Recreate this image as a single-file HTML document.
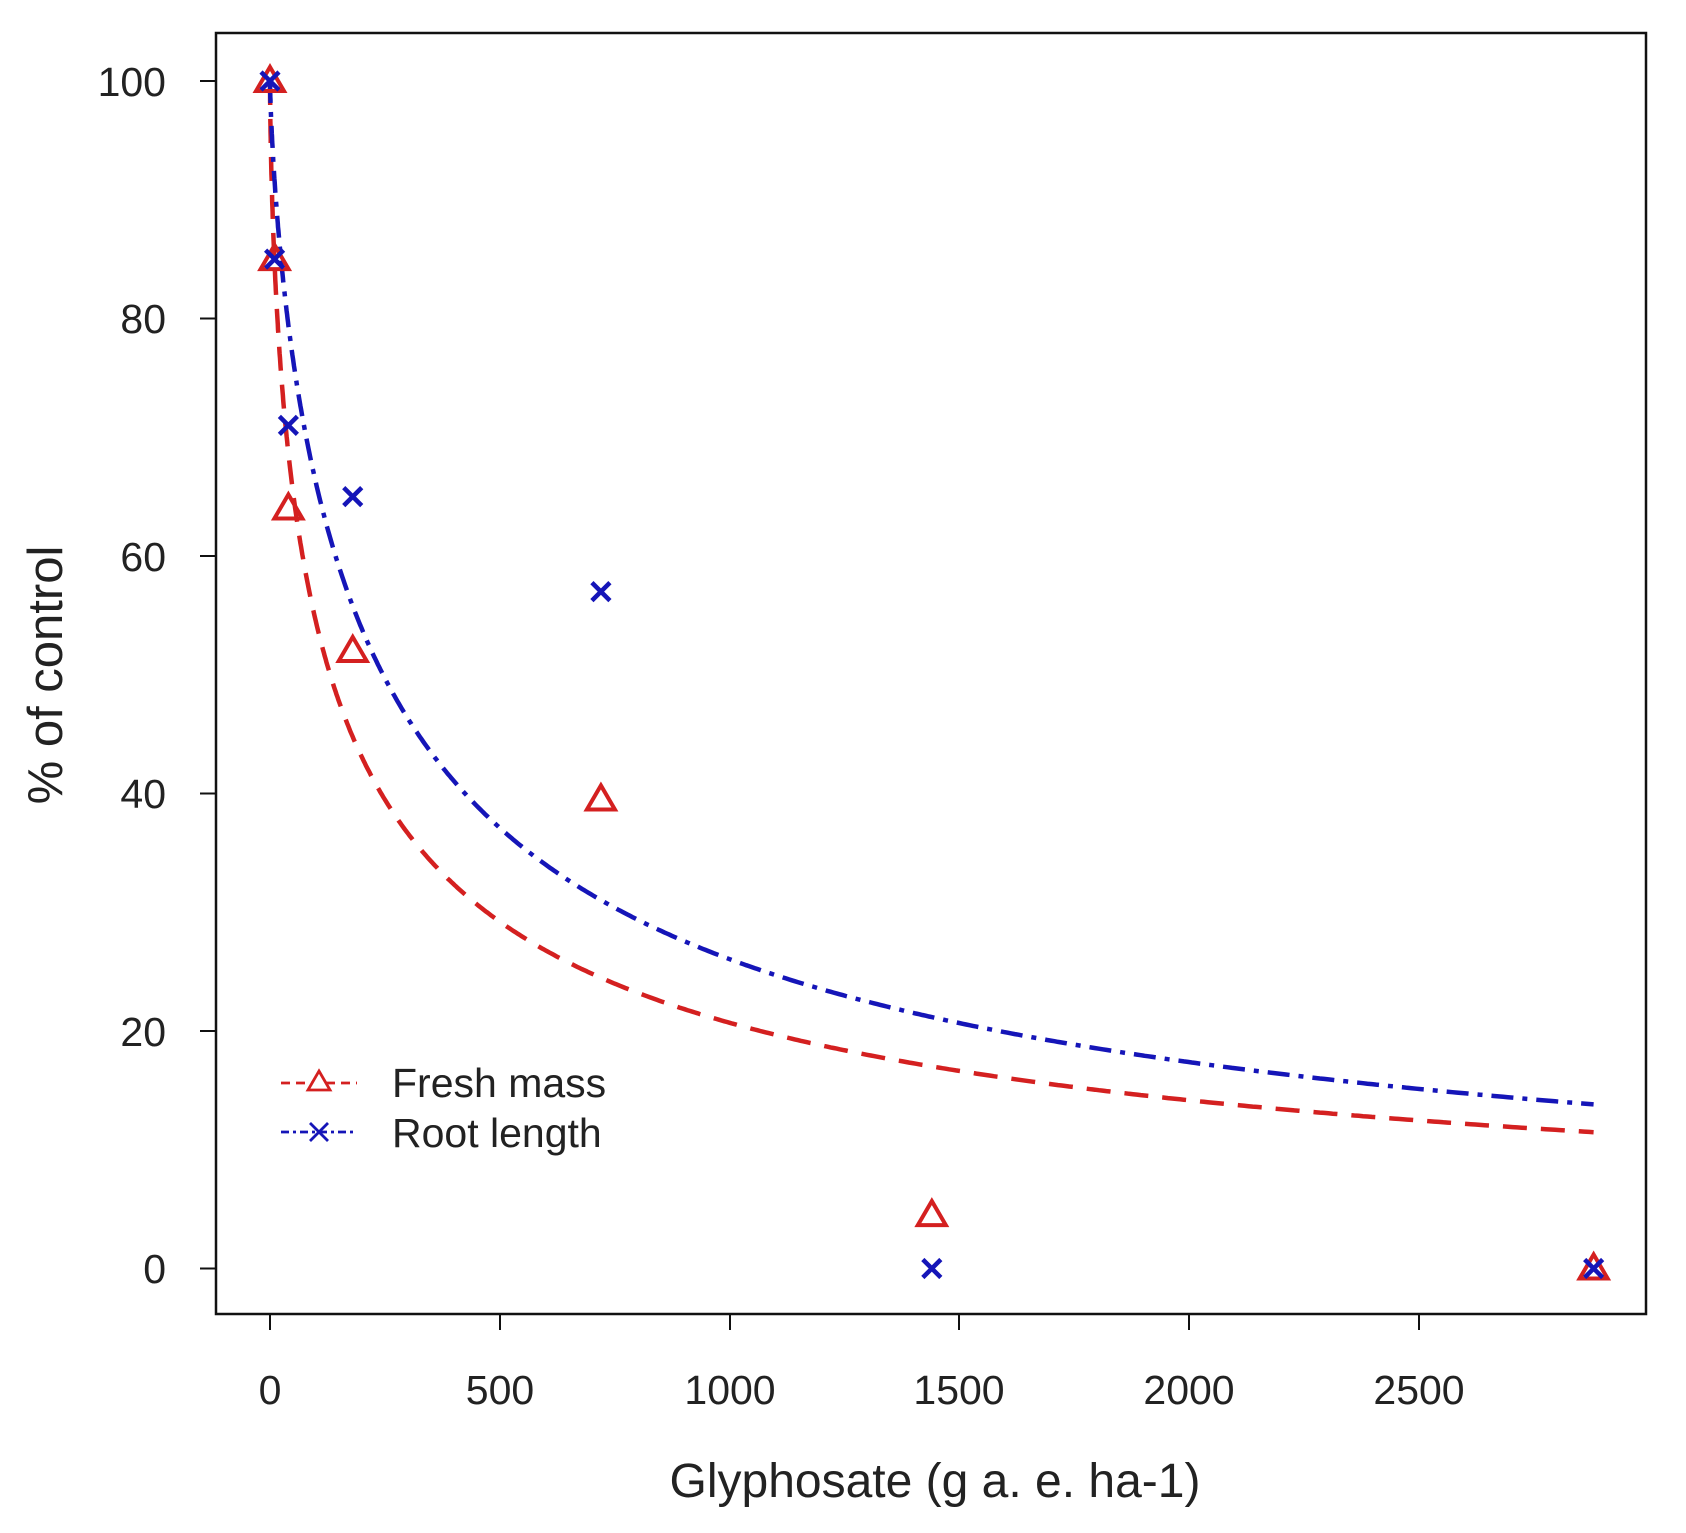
<!DOCTYPE html>
<html><head><meta charset="utf-8"><style>
html,body{margin:0;padding:0;background:#fff;}
svg{display:block;}
text{font-family:"Liberation Sans",Arial,sans-serif;fill:#222;}
</style></head><body>
<svg id="s" width="1686" height="1533" viewBox="0 0 1686 1533" xmlns="http://www.w3.org/2000/svg">
<rect x="216" y="33" width="1430" height="1281" fill="none" stroke="#111" stroke-width="2.5"/>
<g stroke="#111" stroke-width="2">
<line x1="216" y1="81" x2="200" y2="81"/><line x1="216" y1="318.5" x2="200" y2="318.5"/>
<line x1="216" y1="556" x2="200" y2="556"/><line x1="216" y1="793.5" x2="200" y2="793.5"/>
<line x1="216" y1="1031" x2="200" y2="1031"/><line x1="216" y1="1268.5" x2="200" y2="1268.5"/>
<line x1="270" y1="1314" x2="270" y2="1330"/><line x1="500" y1="1314" x2="500" y2="1330"/>
<line x1="730" y1="1314" x2="730" y2="1330"/><line x1="959" y1="1314" x2="959" y2="1330"/>
<line x1="1189" y1="1314" x2="1189" y2="1330"/><line x1="1419" y1="1314" x2="1419" y2="1330"/>
</g>
<g font-size="41" text-anchor="end">
<text x="166" y="96">100</text><text x="166" y="333">80</text><text x="166" y="571">60</text>
<text x="166" y="808">40</text><text x="166" y="1046">20</text><text x="166" y="1283">0</text>
</g>
<g font-size="41" text-anchor="middle">
<text x="270" y="1404">0</text><text x="500" y="1404">500</text><text x="730" y="1404">1000</text>
<text x="959" y="1404">1500</text><text x="1189" y="1404">2000</text><text x="1419" y="1404">2500</text>
</g>
<text x="935" y="1497" font-size="48" text-anchor="middle">Glyphosate (g a. e. ha-1)</text>
<text transform="translate(62,675) rotate(-90)" font-size="49" text-anchor="middle">% of control</text>
<path id="fm" fill="none" stroke="#d42020" stroke-width="4.5" stroke-dasharray="24,14"/>
<path id="rl" fill="none" stroke="#1515b8" stroke-width="4.5" stroke-dasharray="22,9,5,9"/>
<g id="pts" fill="none" stroke-width="4"></g>
<line x1="281" y1="1083" x2="357" y2="1083" stroke="#d42020" stroke-width="2.8" stroke-dasharray="9,6"/>
<polygon points="319,1071 330,1090 308,1090" fill="#fff" stroke="#d42020" stroke-width="2.8"/>
<line x1="281" y1="1132" x2="357" y2="1132" stroke="#1515b8" stroke-width="2.8" stroke-dasharray="8,4,3,4"/>
<path d="M310,1123 L328,1141 M328,1123 L310,1141" stroke="#1515b8" stroke-width="2.8"/>
<text x="392" y="1097" font-size="41">Fresh mass</text>
<text x="392" y="1147" font-size="41">Root length</text>
</svg>
<script>
var X=function(v){return 270+v*0.4596;},Y=function(v){return 1268.5-v*11.875;};
function curve(e,b){var d="";for(var i=0;i<=600;i++){var x=2880*Math.pow(i/600,2.2);var y=100/(1+Math.pow(x/e,b));d+=(i?"L":"M")+X(x).toFixed(1)+","+Y(y).toFixed(1);}return d;}
document.getElementById("fm").setAttribute("d",curve(131,0.661));
document.getElementById("rl").setAttribute("d",curve(246,0.744));
var g=document.getElementById("pts"),h="";
[[0,100],[10,85],[40,64],[180,52],[720,39.5],[1440,4.5],[2880,0]].forEach(function(p){var x=X(p[0]),y=Y(p[1]);h+='<polygon points="'+x+','+(y-14)+' '+(x+14)+','+(y+10)+' '+(x-14)+','+(y+10)+'" stroke="#d42020"/>';});
[[0,100],[10,85],[40,71],[180,65],[720,57],[1440,0],[2880,0]].forEach(function(p){var x=X(p[0]),y=Y(p[1]);h+='<path d="M'+(x-9)+','+(y-9)+'L'+(x+9)+','+(y+9)+'M'+(x+9)+','+(y-9)+'L'+(x-9)+','+(y+9)+'" stroke="#1515b8" stroke-width="4.5"/>';});
g.innerHTML=h;
</script>
</body></html>
